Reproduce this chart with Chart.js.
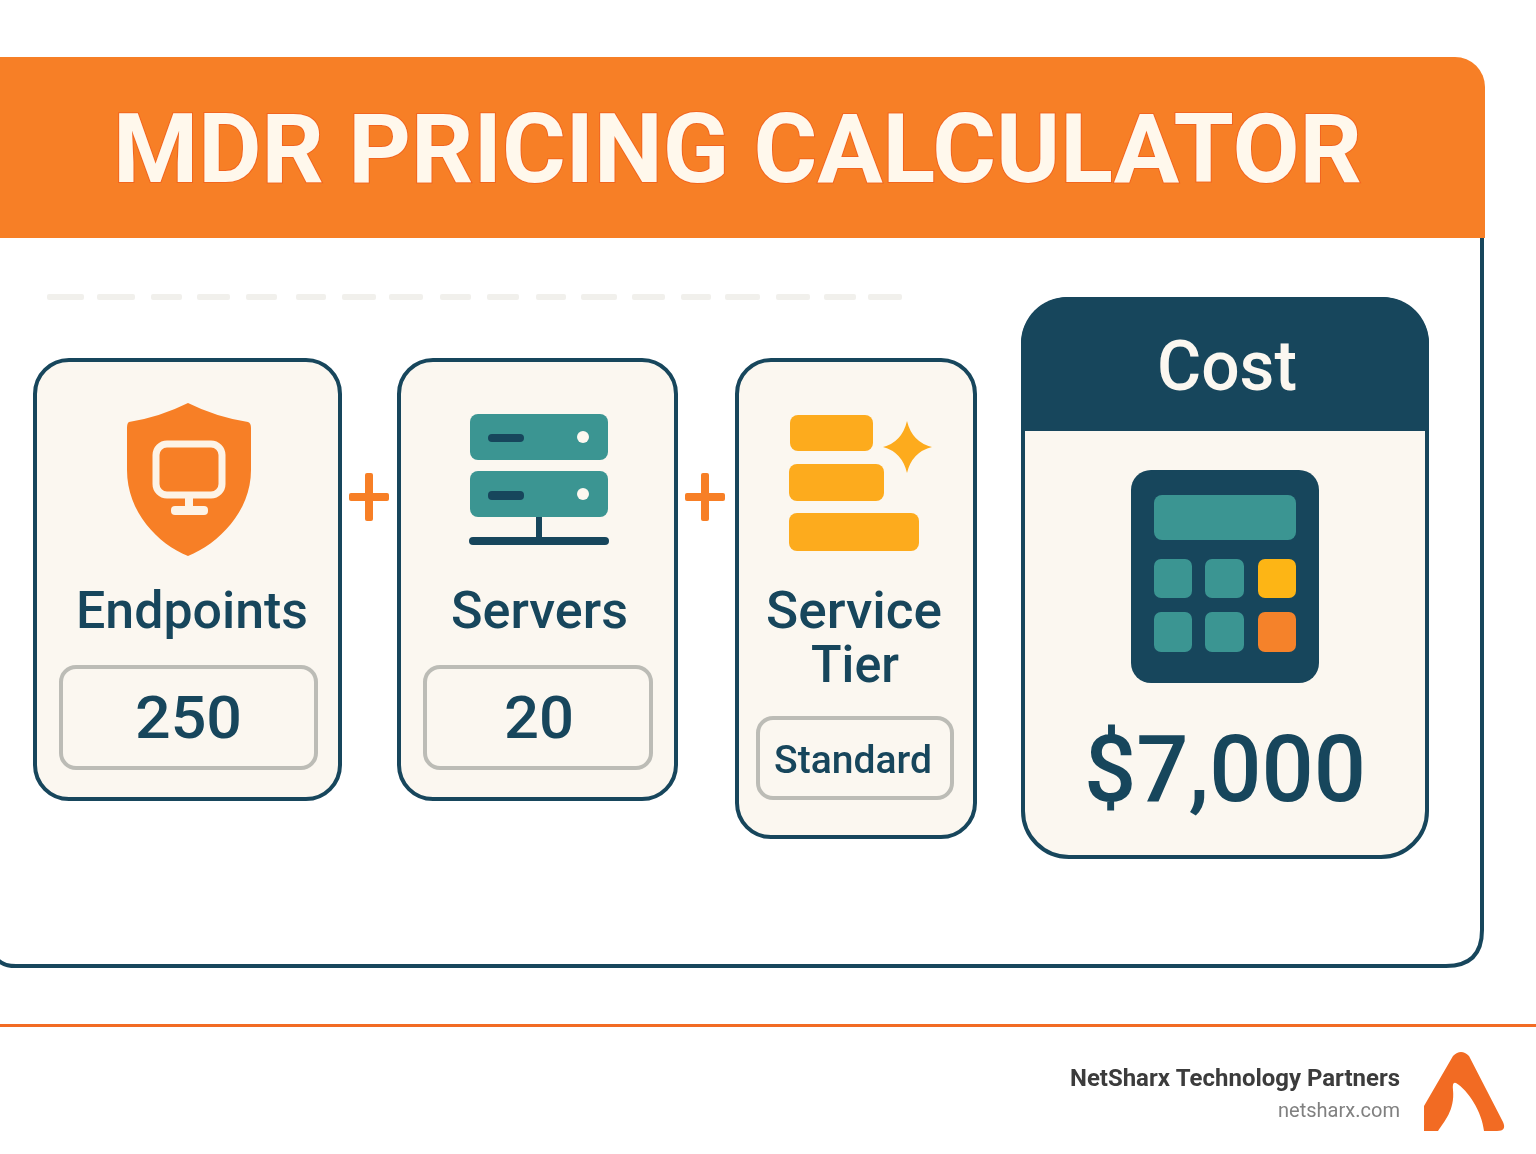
<!DOCTYPE html>
<html>
<head>
<meta charset="utf-8">
<title>MDR Pricing Calculator</title>
<script src="https://cdn.jsdelivr.net/npm/chart.js@4"></script>
<style>
  html, body { margin: 0; padding: 0; background: #fff; }
  #wrap { width: 1536px; height: 1154px; overflow: hidden; }
  canvas { display: block; }
</style>
</head>
<body>
<div id="wrap"><canvas id="calc" width="1536" height="1154"></canvas></div>
<script>
// --- data ---
const chartTitle = 'MDR PRICING CALCULATOR';
const categories = ['Endpoints', 'Servers'];
const quantities = [250, 20];
const tierLabel = ['Service', 'Tier'];
const tierValue = 'Standard';
const costLabel = 'Cost';
const costValue = 7000;
const brandName = 'NetSharx Technology Partners';
const brandUrl = 'netsharx.com';

// --- layout and colours, in page units of the px/py scales ---
const NAVY = '#17465c';
const ORANGE = '#f77f26';
const DEEP_ORANGE = '#f26b23';
const TEAL = '#3b9592';
const AMBER = '#fdab1d';
const CREAM = '#fbf7f0';
const BOX_GREY = '#bcbcb6';
const FONT = 'Roboto, "Liberation Sans", sans-serif';

const cards = [
    { x0: 35, x1: 340, y0: 360, y1: 799, box: [61, 667, 316, 768] },
    { x0: 399, x1: 676, y0: 360, y1: 799, box: [425, 667, 651, 768] },
    { x0: 737, x1: 975, y0: 360, y1: 837, box: [758, 718, 952, 798] }
];
const dashSpans = [[47, 84], [97, 135], [151, 182], [197, 230], [246, 277], [296, 326],
    [342, 376], [389, 423], [440, 471], [487, 519], [536, 566], [581, 617],
    [632, 665], [681, 711], [725, 760], [776, 810], [824, 856], [868, 902]];

const calcPlugin = {
    id: 'calcPlugin',
    beforeDraw(chart) {
        const ctx = chart.ctx;
        const X = v => chart.scales.px.getPixelForValue(v);
        const Y = v => chart.scales.py.getPixelForValue(v);

        function rect(x0, y0, x1, y1, r, fill, stroke, lw) {
            ctx.beginPath();
            ctx.roundRect(X(x0), Y(y0), X(x1) - X(x0), Y(y1) - Y(y0), r);
            if (fill) { ctx.fillStyle = fill; ctx.fill(); }
            if (stroke) { ctx.strokeStyle = stroke; ctx.lineWidth = lw; ctx.stroke(); }
        }

        // text squeezed to the width it has in the picture
        function label(str, left, right, base, size, weight, color, edge) {
            ctx.save();
            ctx.font = weight + ' ' + size + 'px ' + FONT;
            ctx.textAlign = 'left';
            ctx.textBaseline = 'alphabetic';
            const w = ctx.measureText(str).width;
            ctx.translate(X(left), Y(base));
            ctx.scale((X(right) - X(left)) / w, 1);
            if (edge) { ctx.strokeStyle = edge; ctx.lineWidth = 2; ctx.strokeText(str, 0, 0); }
            ctx.fillStyle = color;
            ctx.fillText(str, 0, 0);
            ctx.restore();
        }

        ctx.save();

        // outer panel
        ctx.beginPath();
        ctx.moveTo(X(1482), Y(236));
        ctx.lineTo(X(1482), Y(930));
        ctx.quadraticCurveTo(X(1482), Y(966), X(1446), Y(966));
        ctx.lineTo(X(16), Y(966));
        ctx.quadraticCurveTo(X(4), Y(966), X(-2), Y(960));
        ctx.strokeStyle = NAVY;
        ctx.lineWidth = 4;
        ctx.stroke();

        // header band
        ctx.beginPath();
        ctx.roundRect(X(-10), Y(57), X(1485) - X(-10), Y(238) - Y(57), [0, 30, 0, 0]);
        ctx.fillStyle = ORANGE;
        ctx.fill();
        label(chartTitle, 113, 1362, 182, 96, 'bold', '#fff8ec', '#f2651f');

        // faint dashes under the header
        dashSpans.forEach(d => rect(d[0], 294, d[1], 300, 2, '#f1f0ec'));

        // input cards
        cards.forEach(c => {
            rect(c.x0, c.y0, c.x1, c.y1, 34, CREAM, NAVY, 4);
            rect(c.box[0], c.box[1], c.box[2], c.box[3], 15, CREAM, BOX_GREY, 4);
        });

        // shield icon
        ctx.beginPath();
        ctx.moveTo(X(188), Y(403));
        ctx.quadraticCurveTo(X(160), Y(417), X(129), Y(422));
        ctx.quadraticCurveTo(X(127), Y(423), X(127), Y(428));
        ctx.lineTo(X(127), Y(470));
        ctx.bezierCurveTo(X(127), Y(512), X(158), Y(544), X(188), Y(556));
        ctx.bezierCurveTo(X(218), Y(544), X(251), Y(512), X(251), Y(470));
        ctx.lineTo(X(251), Y(428));
        ctx.quadraticCurveTo(X(251), Y(423), X(248), Y(422));
        ctx.quadraticCurveTo(X(216), Y(417), X(188), Y(403));
        ctx.fillStyle = ORANGE;
        ctx.fill();
        rect(156, 444, 222, 495, 11, null, '#fdf3e6', 7);
        rect(185, 498, 193, 508, 0, '#fdf3e6');
        rect(171, 506, 208, 515, 4, '#fdf3e6');

        // server icon
        rect(470, 414, 608, 460, 8, TEAL);
        rect(470, 471, 608, 517, 8, TEAL);
        rect(488, 434, 524, 442, 4, NAVY);
        rect(488, 491, 524, 500, 4, NAVY);
        [437, 494].forEach(cy => {
            ctx.beginPath();
            ctx.arc(X(583), Y(cy), 6, 0, Math.PI * 2);
            ctx.fillStyle = '#fdf8f0';
            ctx.fill();
        });
        rect(536, 517, 542, 540, 0, NAVY);
        rect(469, 537, 609, 545, 4, NAVY);

        // plus signs
        [369, 705].forEach(cx => {
            rect(cx - 20, 493, cx + 20, 501, 2, ORANGE);
            rect(cx - 4, 473, cx + 4, 521, 2, ORANGE);
        });

        // tier icon
        rect(790, 415, 873, 451, 8, AMBER);
        rect(789, 464, 884, 501, 8, AMBER);
        rect(789, 513, 919, 551, 8, AMBER);
        ctx.beginPath();
        ctx.moveTo(X(907), Y(421));
        ctx.quadraticCurveTo(X(912), Y(442), X(932), Y(447));
        ctx.quadraticCurveTo(X(912), Y(452), X(907), Y(473));
        ctx.quadraticCurveTo(X(902), Y(452), X(883), Y(447));
        ctx.quadraticCurveTo(X(902), Y(442), X(907), Y(421));
        ctx.fillStyle = AMBER;
        ctx.fill();

        // cost card
        rect(1023, 299, 1427, 857, 46, CREAM, NAVY, 4);
        ctx.beginPath();
        ctx.roundRect(X(1021), Y(297), X(1429) - X(1021), Y(431) - Y(297), [46, 46, 0, 0]);
        ctx.fillStyle = NAVY;
        ctx.fill();

        // calculator
        rect(1131, 470, 1319, 683, 20, NAVY);
        rect(1154, 495, 1296, 540, 8, TEAL);
        [
            [1154, 559, 1192, 598, TEAL], [1205, 559, 1244, 598, TEAL], [1258, 559, 1296, 598, '#fdb515'],
            [1154, 612, 1192, 652, TEAL], [1205, 612, 1244, 652, TEAL], [1258, 612, 1296, 652, '#f5822a']
        ].forEach(b => rect(b[0], b[1], b[2], b[3], 7, b[4]));

        // card texts
        label(categories[0], 76, 308, 628, 52, '500', NAVY);
        label(categories[1], 451, 628, 628, 52, '500', NAVY);
        label(tierLabel[0], 766, 942, 628, 52, '500', NAVY);
        label(tierLabel[1], 811, 899, 682, 52, '500', NAVY);
        label(String(quantities[0]), 135, 242, 738, 60, '500', NAVY);
        label(String(quantities[1]), 504, 574, 738, 60, '500', NAVY);
        label(tierValue, 774, 932, 773, 39, '500', NAVY);
        label(costLabel, 1157, 1297, 390, 70, '500', '#fbf7f0');
        label('$' + costValue.toLocaleString('en-US'), 1084, 1366, 801, 92, '500', NAVY);

        // footer
        rect(0, 1024, 1536, 1027, 0, DEEP_ORANGE);
        label(brandName, 1070, 1400, 1086, 24, 'bold', '#3c3c3c');
        label(brandUrl, 1278, 1400, 1117, 20, 'normal', '#808080');

        // logo
        ctx.beginPath();
        ctx.moveTo(X(1453), Y(1056));
        ctx.quadraticCurveTo(X(1461), Y(1048), X(1469), Y(1056));
        ctx.lineTo(X(1503), Y(1122));
        ctx.quadraticCurveTo(X(1507), Y(1131), X(1497), Y(1131));
        ctx.lineTo(X(1484), Y(1131));
        ctx.bezierCurveTo(X(1482), Y(1112), X(1468), Y(1090), X(1456), Y(1083));
        ctx.quadraticCurveTo(X(1452), Y(1081), X(1453), Y(1090));
        ctx.bezierCurveTo(X(1455), Y(1110), X(1444), Y(1122), X(1438), Y(1131));
        ctx.lineTo(X(1424), Y(1131));
        ctx.lineTo(X(1424), Y(1106));
        ctx.closePath();
        ctx.fillStyle = DEEP_ORANGE;
        ctx.fill();

        ctx.restore();
    }
};

new Chart(document.getElementById('calc'), {
    type: 'bar',
    data: {
        labels: categories,
        datasets: [{ label: 'Quantity', data: quantities, hidden: true }]
    },
    options: {
        responsive: false,
        animation: false,
        layout: { padding: 0 },
        plugins: { legend: { display: false }, title: { display: false }, tooltip: { enabled: false } },
        scales: {
            x: { display: false },
            y: { display: false },
            // the bar defaults set offset on x axes, which would inset the page scale
            px: { type: 'linear', axis: 'x', display: false, offset: false, grid: { offset: false }, min: 0, max: 1536 },
            py: { type: 'linear', axis: 'y', display: false, min: 0, max: 1154, reverse: true }
        }
    },
    plugins: [calcPlugin]
});
</script>
</body>
</html>
